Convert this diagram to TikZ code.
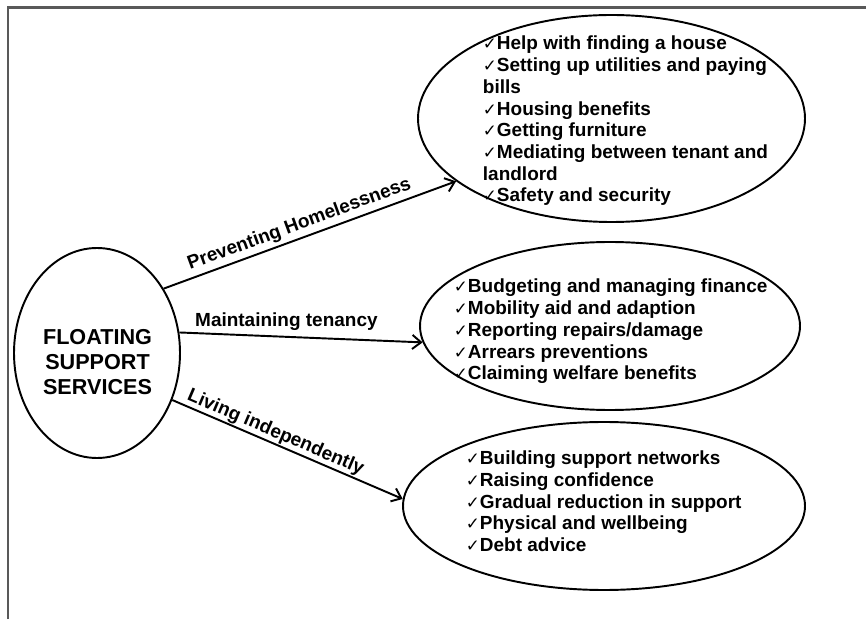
\documentclass[tikz,border=0pt]{standalone}
\usepackage{fontspec}
\setmainfont{Liberation Sans}
\newfontfamily\symfont{DejaVu Sans}
\usetikzlibrary{shapes.geometric,arrows.meta}
\newcommand{\checkmk}{{\symfont\fontsize{9.5}{9.5}\selectfont ✓}}

\begin{document}
\begin{tikzpicture}[>={Straight Barb[length=5pt,width=8pt]}, line width=1.1pt,
	bubble/.style={draw, ellipse, inner sep=0pt},
	items/.style={anchor=west, align=left, inner sep=0pt, font=\bfseries\fontsize{10.8}{12.35}\selectfont},
	lbl/.style={font=\bfseries\fontsize{10.8}{13}\selectfont, inner sep=2pt}]
		\useasboundingbox (0,0) rectangle (17.32,12.38);
		% Frame
		\draw[black!65, line width=1.7pt] (0.16,0) -- (0.16,12.23) -- (17.32,12.23);
		
		% Ellipses
		\node[bubble, minimum width=3.32cm, minimum height=4.2cm] (fss) at (1.94,5.32) {};
		\node[bubble, minimum width=7.74cm, minimum height=4.14cm] (prev) at (12.23,10.01) {};
		\node[bubble, minimum width=7.6cm, minimum height=3.36cm] (maint) at (12.2,5.86) {};
		\node[bubble, minimum width=8.04cm, minimum height=3.36cm] (indep) at (12.08,2.26) {};
		
		% Texts
		\node[font=\bfseries\fontsize{12.3}{14.2}\selectfont, align=center, inner sep=0pt] (fsstext) at (1.95,5.14) {FLOATING\\SUPPORT\\SERVICES};
		\node[items] (prevlist) at (9.64,9.96) {\checkmk Help with finding a house\\\checkmk Setting up utilities and paying\\bills\\\checkmk Housing benefits\\\checkmk Getting furniture\\\checkmk Mediating between tenant and\\landlord\\\checkmk Safety and security};
		\node[items] (maintlist) at (9.06,5.75) {\checkmk Budgeting and managing finance\\\checkmk Mobility aid and adaption\\\checkmk Reporting repairs/damage\\\checkmk Arrears preventions\\\checkmk Claiming welfare benefits};
		\node[items] (indeplist) at (9.3,2.35) {\checkmk Building support networks\\\checkmk Raising confidence\\\checkmk Gradual reduction in support\\\checkmk Physical and wellbeing\\\checkmk Debt advice};
		
		% Arrows and labels
		\draw[->] (fss.44) -- (prev.202) node[lbl, sloped, above, pos=0.48] (prevlbl) {Preventing Homelessness};
		\draw[->] (fss.14) -- (maint.185) node[lbl, above, pos=0.44, inner sep=3pt] (maintlbl) {Maintaining tenancy};
		\draw[->] (fss.-32) -- (indep.178) node[lbl, sloped, above, pos=0.43, inner sep=0.5pt] (indeplbl) {Living independently};
	\end{tikzpicture}
\end{document}
